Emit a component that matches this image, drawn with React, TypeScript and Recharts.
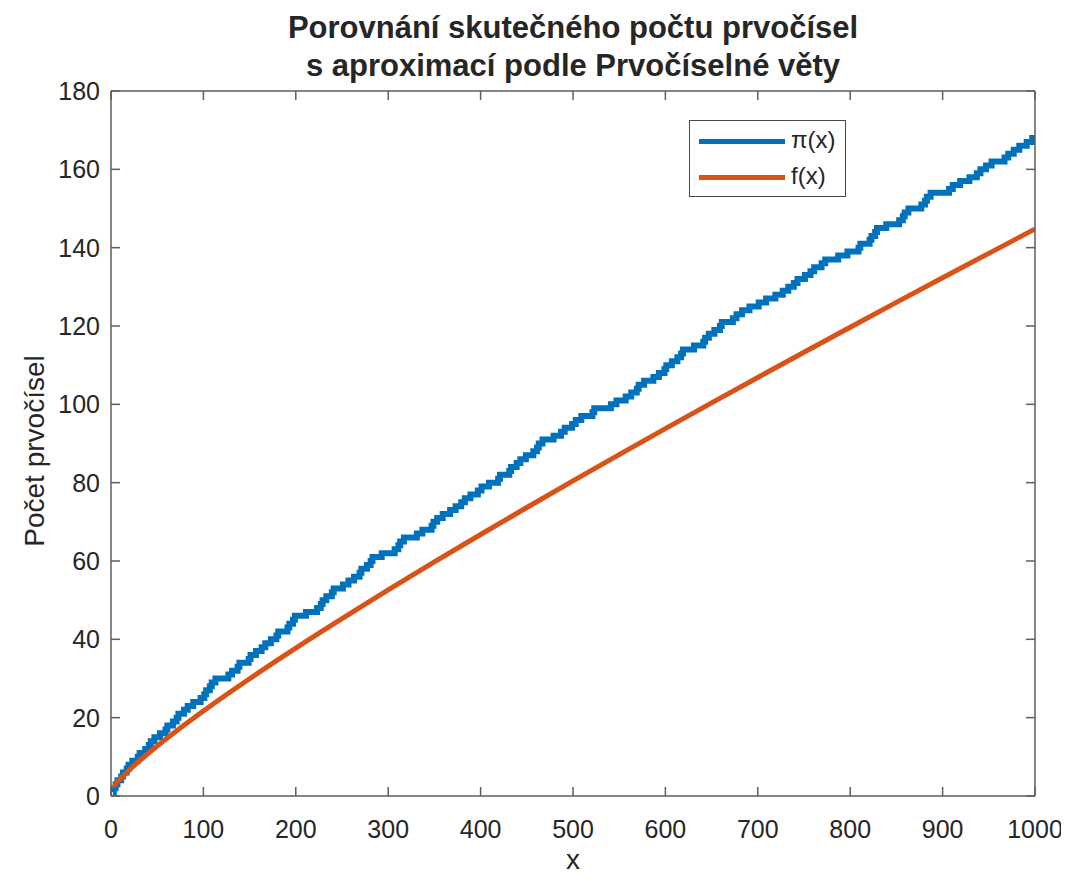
import React from 'react'
import { LineChart, Line, XAxis, YAxis } from 'recharts'

// primes up to 1000, one step of pi(x) at each
const primes = [
  2, 3, 5, 7, 11, 13, 17, 19, 23, 29, 31, 37, 41, 43, 47, 53, 59, 61, 67, 71, 73, 79, 83, 89, 97,
  101, 103, 107, 109, 113, 127, 131, 137, 139, 149, 151, 157, 163, 167, 173, 179, 181, 191, 193, 197, 199,
  211, 223, 227, 229, 233, 239, 241, 251, 257, 263, 269, 271, 277, 281, 283, 293,
  307, 311, 313, 317, 331, 337, 347, 349, 353, 359, 367, 373, 379, 383, 389, 397,
  401, 409, 419, 421, 431, 433, 439, 443, 449, 457, 461, 463, 467, 479, 487, 491, 499,
  503, 509, 521, 523, 541, 547, 557, 563, 569, 571, 577, 587, 593, 599,
  601, 607, 613, 617, 619, 631, 641, 643, 647, 653, 659, 661, 673, 677, 683, 691,
  701, 709, 719, 727, 733, 739, 743, 751, 757, 761, 769, 773, 787, 797,
  809, 811, 821, 823, 827, 829, 839, 853, 857, 859, 863, 877, 881, 883, 887,
  907, 911, 919, 929, 937, 941, 947, 953, 967, 971, 977, 983, 991, 997,
]

// approximation f(x)
const fX = [2, 3, 5, 10, 20, 30, 50, 75, 100, 150, 200, 250, 300, 350, 400, 450, 500, 550, 600, 650, 700, 750, 800, 850, 900, 950, 1000]
const fY = [2.89, 2.73, 3.11, 4.34, 6.68, 8.82, 12.78, 17.37, 21.71, 29.94, 37.75, 45.28, 52.6, 59.75, 66.76, 73.66, 80.46, 87.16, 93.8, 100.36, 106.85, 113.29, 119.68, 126.02, 132.31, 138.55, 144.76]

const xTicks = [0, 100, 200, 300, 400, 500, 600, 700, 800, 900, 1000]
const yTicks = [0, 20, 40, 60, 80, 100, 120, 140, 160, 180]

const piData = [...primes.map((p, i) => ({ x: p, y: i + 1 })), { x: 1000, y: primes.length }]
const fData = fX.map((x, i) => ({ x, y: fY[i] }))

const AXIS = '#5e5e5e'
const TEXT = '#262626'
const FONT = '"Liberation Sans", Arial, Helvetica, sans-serif'
const TICK_LEN = 9

const BottomTick = ({ x, y, payload }: any) => (
  <g>
    <line x1={x} x2={x} y1={y} y2={y - TICK_LEN} stroke={AXIS} strokeWidth={1.5} />
    <text x={x} y={y + 42} textAnchor='middle' fill={TEXT} fontSize={25} fontFamily={FONT}>
      {payload.value}
    </text>
  </g>
)

const LeftTick = ({ x, y, payload }: any) => (
  <g>
    <line x1={x} x2={x + TICK_LEN} y1={y} y2={y} stroke={AXIS} strokeWidth={1.5} />
    <text x={x - 11} y={y + 9} textAnchor='end' fill={TEXT} fontSize={25} fontFamily={FONT}>
      {payload.value}
    </text>
  </g>
)

const TopTick = ({ x, y }: any) => (
  <line x1={x} x2={x} y1={y} y2={y + TICK_LEN} stroke={AXIS} strokeWidth={1.5} />
)

const RightTick = ({ x, y }: any) => (
  <line x1={x} x2={x - TICK_LEN} y1={y} y2={y} stroke={AXIS} strokeWidth={1.5} />
)

export default function App() {
  return (
    <div style={{ position: 'relative', width: 1061, height: 863, fontFamily: FONT, color: TEXT }}>
      <div style={{ position: 'absolute', left: 0, width: 1130, top: 1, textAlign: 'center', fontSize: 31, fontWeight: 'bold', lineHeight: '38px' }}>
        Porovnání skutečného počtu prvočísel
        <br />
        s aproximací podle Prvočíselné věty
      </div>
      <LineChart
        width={1061}
        height={863}
        margin={{ top: 82, right: 33, bottom: 0, left: 0 }}>
        <XAxis
          dataKey='x'
          type='number'
          domain={[0, 1000]}
          ticks={xTicks}
          allowDataOverflow
          height={75}
          tickSize={0}
          tickMargin={0}
          tickLine={false}
          axisLine={{ stroke: AXIS, strokeWidth: 1.5 }}
          tick={<BottomTick />}
        />
        <XAxis
          xAxisId='top'
          orientation='top'
          dataKey='x'
          type='number'
          domain={[0, 1000]}
          ticks={xTicks}
          height={1}
          tickSize={0}
          tickMargin={0}
          tickLine={false}
          axisLine={{ stroke: AXIS, strokeWidth: 1.5 }}
          tick={<TopTick />}
        />
        <YAxis
          type='number'
          domain={[0, 180]}
          ticks={yTicks}
          width={103}
          tickSize={0}
          tickMargin={0}
          tickLine={false}
          axisLine={{ stroke: AXIS, strokeWidth: 1.5 }}
          tick={<LeftTick />}
        />
        <YAxis
          yAxisId='right'
          orientation='right'
          type='number'
          domain={[0, 180]}
          ticks={yTicks}
          width={1}
          tickSize={0}
          tickMargin={0}
          tickLine={false}
          axisLine={{ stroke: AXIS, strokeWidth: 1.5 }}
          tick={<RightTick />}
        />
        {/* invisible series so the top and right box axes get drawn */}
        <Line
          data={fData}
          dataKey='y'
          xAxisId='top'
          yAxisId='right'
          stroke='none'
          dot={false}
          legendType='none'
          isAnimationActive={false}
        />
        <Line
          data={piData}
          dataKey='y'
          type='stepAfter'
          stroke='#0072BD'
          strokeWidth={6}
          dot={false}
          isAnimationActive={false}
        />
        <Line
          data={fData}
          dataKey='y'
          type='monotone'
          stroke='#D95319'
          strokeWidth={5}
          dot={false}
          isAnimationActive={false}
        />
      </LineChart>
      <div
        style={{
          position: 'absolute',
          left: 27,
          top: 443,
          transform: 'translate(-50%, -50%) rotate(-90deg)',
          fontSize: 28,
          whiteSpace: 'nowrap',
        }}>
        Počet prvočísel
      </div>
      <div style={{ position: 'absolute', left: 565, top: 838, transform: 'translateX(-50%)', fontSize: 28, lineHeight: '28px' }}>x</div>
      <div
        style={{
          position: 'absolute',
          left: 681,
          top: 112,
          width: 157,
          height: 77,
          boxSizing: 'border-box',
          border: '1.5px solid #4a4a4a',
          background: '#fff',
          fontSize: 24,
        }}>
        <div style={{ position: 'absolute', left: 9, top: 18, width: 86, height: 5, background: '#0072BD' }} />
        <div style={{ position: 'absolute', left: 101, top: 5, lineHeight: '28px' }}>π(x)</div>
        <div style={{ position: 'absolute', left: 9, top: 54, width: 86, height: 5, background: '#D95319' }} />
        <div style={{ position: 'absolute', left: 101, top: 41, lineHeight: '28px' }}>f(x)</div>
      </div>
    </div>
  )
}
